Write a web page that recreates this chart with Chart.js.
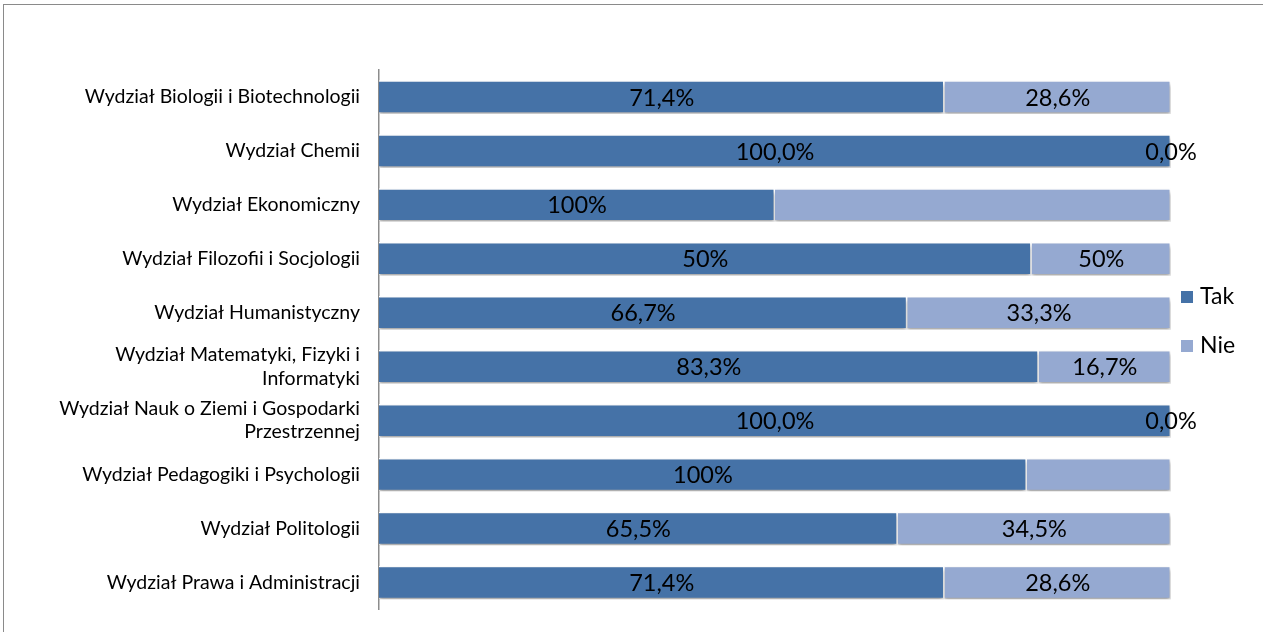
<!DOCTYPE html>
<html>
<head>
<meta charset="utf-8">
<script src="https://cdn.jsdelivr.net/npm/chart.js@4.4.0/dist/chart.umd.min.js"></script>
<style>
  body { margin: 0; background: #fff; overflow: hidden; }
  #frame { position: absolute; left: 3px; top: 4px; width: 1400px; height: 800px;
           border-left: 1px solid #8a8a8a; border-top: 1px solid #8a8a8a; }
  #wrap { position: absolute; left: 0; top: 0; width: 1263px; height: 632px; }
</style>
</head>
<body>
<div id="frame"></div>
<div id="wrap"><canvas id="chart"></canvas></div>
<script>
// --- Data ---
const faculties = [
  "Wydział Biologii i Biotechnologii",
  "Wydział Chemii",
  "Wydział Ekonomiczny",
  "Wydział Filozofii i Socjologii",
  "Wydział Humanistyczny",
  ["Wydział Matematyki, Fizyki i", "Informatyki"],
  ["Wydział Nauk o Ziemi i Gospodarki", "Przestrzennej"],
  "Wydział Pedagogiki i Psychologii",
  "Wydział Politologii",
  "Wydział Prawa i Administracji"
];
const takValues = [71.4, 100, 50, 82.4, 66.7, 83.3, 100, 81.8, 65.5, 71.4];
const nieValues = [28.6, 0, 50, 17.6, 33.3, 16.7, 0, 18.2, 34.5, 28.6];
// labels as printed on the original (not always equal to bar length)
const takLabels = ["71,4%", "100,0%", "100%", "50%", "66,7%", "83,3%", "100,0%", "100%", "65,5%", "71,4%"];
const nieLabels = ["28,6%", "0,0%", "", "50%", "33,3%", "16,7%", "0,0%", "", "34,5%", "28,6%"];

const FONT = "Lato, sans-serif";

// shadow under the bars
const shadowPlugin = {
  id: "barShadow",
  beforeDatasetsDraw(chart) {
    const ctx = chart.ctx;
    ctx.save();
    ctx.shadowColor = "rgba(0,0,0,0.35)";
    ctx.shadowBlur = 4;
    ctx.shadowOffsetY = 3;
  },
  afterDatasetsDraw(chart) {
    chart.ctx.restore();
  }
};

// value labels in the middle of each segment
const valueLabels = {
  id: "valueLabels",
  afterDatasetsDraw(chart) {
    const ctx = chart.ctx;
    ctx.save();
    ctx.font = "23.5px " + FONT;
    ctx.fillStyle = "#000";
    ctx.textAlign = "center";
    ctx.textBaseline = "middle";
    chart.data.datasets.forEach((ds, i) => {
      chart.getDatasetMeta(i).data.forEach((bar, j) => {
        const txt = ds.valueText[j];
        if (!txt) return;
        ctx.fillText(txt, (bar.base + bar.x) / 2, bar.y + 1);
      });
    });
    ctx.restore();
  }
};

// legend on the right
const sideLegend = {
  id: "sideLegend",
  afterDraw(chart) {
    const ctx = chart.ctx;
    const x = chart.chartArea.right + 10;
    const ys = [297, 346];
    ctx.save();
    ctx.font = "23px " + FONT;
    ctx.textBaseline = "middle";
    chart.data.datasets.forEach((ds, i) => {
      ctx.fillStyle = ds.backgroundColor;
      ctx.fillRect(x, ys[i] - 6, 12, 12);
      ctx.fillStyle = "#000";
      ctx.fillText(ds.label, x + 19, ys[i]);
    });
    ctx.restore();
  }
};

new Chart(document.getElementById("chart"), {
  type: "bar",
  data: {
    labels: faculties,
    datasets: [
      { label: "Tak", data: takValues, valueText: takLabels, backgroundColor: "#4572A7",
        borderColor: "#ffffff", borderWidth: 1.5 },
      { label: "Nie", data: nieValues, valueText: nieLabels, backgroundColor: "#95A9D1",
        borderColor: "#ffffff", borderWidth: 1.5 }
    ]
  },
  options: {
    indexAxis: "y",
    responsive: true,
    maintainAspectRatio: false,
    animation: false,
    barPercentage: 0.62,
    categoryPercentage: 1,
    layout: { padding: { left: 0, right: 92, top: 70, bottom: 11 } },
    plugins: {
      legend: { display: false },
      tooltip: { enabled: false }
    },
    scales: {
      x: { stacked: true, min: 0, max: 100, display: false },
      y: {
        stacked: true,
        grid: { display: false },
        border: { display: true, color: "#8c8c8c", width: 1.5 },
        ticks: { color: "#000", padding: 11, font: { family: FONT, size: 19.5, lineHeight: 1.18 } },
        afterFit(scale) { scale.width = 379; }
      }
    }
  },
  plugins: [shadowPlugin, valueLabels, sideLegend]
});
</script>
</body>
</html>
